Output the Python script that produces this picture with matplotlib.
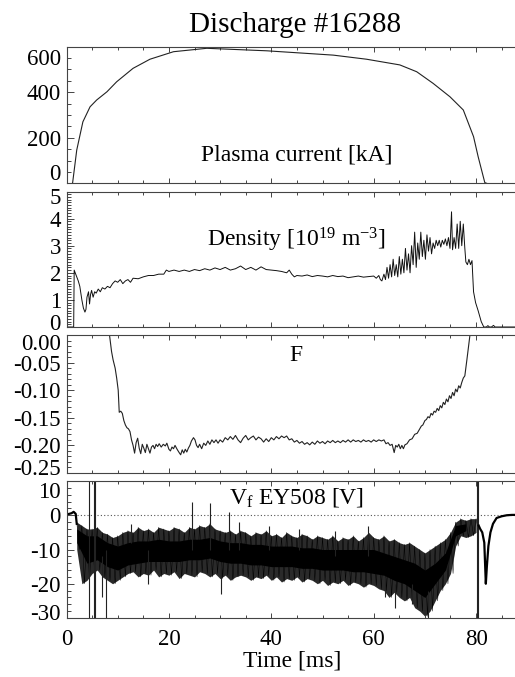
import matplotlib
matplotlib.use('Agg')
import matplotlib.pyplot as plt
from matplotlib.ticker import MultipleLocator
from matplotlib.transforms import ScaledTranslation

plt.rcParams['font.family'] = ['Liberation Serif', 'DejaVu Serif']
plt.rcParams['mathtext.fontset'] = 'custom'
plt.rcParams['mathtext.rm'] = 'Liberation Serif'
plt.rcParams['mathtext.it'] = 'Liberation Serif:italic'
plt.rcParams['axes.unicode_minus'] = False

# --- plasma current [kA] ---
ip_t = [0.0, 1.2, 2.0, 3.2, 4.6, 5.9, 7.9, 9.8, 13.0, 16.3, 20.9, 27.4, 39.1,
        52.1, 58.6, 65.1, 68.4, 71.6, 74.9, 77.5, 79.5, 80.4, 81.7, 88.0]
ip_v = [-50, 3, 146, 270, 336, 366, 402, 446, 505, 545, 578, 593, 582,
        563, 545, 520, 490, 439, 380, 322, 205, 117, 3, -50]

# --- density [1e19 m^-3] ---
ne_t = [0.0, 1.4, 1.5, 1.7, 2.0, 2.3, 2.6, 3.0, 3.3, 3.6, 3.8, 4.0, 4.3, 4.5, 4.7,
        4.9, 5.2, 5.5, 5.8, 6.2, 6.6, 7.0, 7.5, 8.0, 8.5, 9.0, 9.5, 10.0, 10.5,
        11.0, 11.5, 12.0, 12.5, 13.0, 14, 15, 16, 17, 18, 19, 19.5, 20, 21, 22,
        23, 24, 25, 26, 27, 28, 29, 30, 31, 32, 33, 34, 35, 36, 37, 38, 39, 40,
        41, 42, 43, 43.5, 44, 44.5, 45, 46, 47, 48, 49, 50, 51, 52, 53, 54, 55,
        56, 57, 58, 59, 60, 60.5, 61, 61.3, 61.6,
        62.0, 62.3, 62.6, 62.9, 63.2, 63.5, 63.8, 64.1, 64.4, 64.7, 65.0, 65.3,
        65.6, 65.9, 66.2, 66.5, 66.8, 67.1, 67.4, 67.7, 68.0, 68.3, 68.6, 68.9,
        69.2, 69.5, 69.8, 70.1, 70.4, 70.7, 71.0, 71.3, 71.6, 71.9, 72.2, 72.5,
        72.8, 73.1, 73.4, 73.7, 74.0, 74.3, 74.6, 74.9, 75.2, 75.4, 75.7, 76.0,
        76.3, 76.6, 76.9, 77.2, 77.5, 77.8, 78.0, 78.3, 78.6, 78.9, 79.2, 79.5,
        79.9, 80.4, 81.0, 81.5, 82.0, 82.3, 82.6, 83.0, 83.4, 83.7, 84.0, 88.0]
ne_v = [0.0, 0.0, 2.1, 2.0, 1.85, 1.7, 1.5, 1.0, 0.7, 0.55, 0.65, 1.1, 1.3, 0.85, 1.2,
        1.35, 1.1, 1.3, 1.25, 1.4, 1.3, 1.45, 1.4, 1.5, 1.45, 1.6, 1.7, 1.65, 1.75,
        1.6, 1.7, 1.75, 1.65, 1.8, 1.78, 1.85, 1.9, 1.9, 1.95, 1.95, 2.1, 2.05, 2.1, 2.05,
        2.1, 2.05, 2.12, 2.08, 2.15, 2.1, 2.18, 2.12, 2.2, 2.1, 2.15, 2.25, 2.12, 2.2, 2.1, 2.22, 2.12, 2.1,
        2.08, 2.05, 2.0, 2.1, 1.95, 1.85, 1.9, 1.88, 1.92, 1.86, 1.9, 1.88, 1.85, 1.9, 1.86, 1.88, 1.82,
        1.85, 1.88, 1.84, 1.86, 1.88, 1.8, 1.9, 1.75, 1.7,
        1.95, 1.75, 2.2, 1.8, 2.3, 1.85, 2.5, 1.9, 2.3, 1.85, 2.6, 1.95,
        2.5, 2.0, 2.9, 2.1, 2.7, 2.0, 3.0, 2.3, 3.5, 2.2, 3.1, 2.5,
        3.5, 2.6, 3.2, 2.5, 3.4, 2.8, 3.3, 2.7, 3.1, 2.9, 3.2, 3.0,
        3.2, 2.95, 3.2, 3.05, 3.25, 3.0, 3.3, 2.9, 4.25, 2.85, 3.3, 2.9,
        3.8, 2.9, 3.9, 3.0, 3.8, 2.9, 2.4, 2.3, 2.5, 2.3, 2.45, 1.3,
        0.9, 0.6, 0.2, 0.0, 0.0, 0.05, 0.0, 0.0, 0.06, 0.0, 0.0, 0.0]

# --- F ---
f_t = [8.0, 8.4, 8.8, 9.1, 9.5, 9.8, 10.1, 10.3, 10.6, 10.9, 11.2, 11.5, 11.8, 12.1,
       12.4, 12.7, 13.0, 13.3, 13.6, 13.9, 14.2, 14.5, 14.8, 15.1, 15.4, 15.7, 16.0,
       16.3, 16.6, 16.9, 17.2, 17.5, 17.8, 18.1, 18.5, 18.9, 19.3, 19.6, 20.0, 20.3,
       20.6, 20.9, 21.2, 21.6, 22.0, 22.3, 22.6, 22.9, 23.2, 23.5, 23.8, 24.1, 24.4,
       24.8, 25.1, 25.4, 25.7, 26.0, 26.4, 26.8, 27.2, 27.6, 28.0, 28.4, 28.8, 29.2,
       29.6, 30.0, 30.5, 31.0, 31.5, 32.0, 32.5, 33.0, 33.5, 34.0, 34.5, 35.0, 35.5,
       36.0, 36.5, 37.0, 37.5, 38.0, 38.5, 39.0, 39.5, 40.0, 40.5, 41.0, 41.5, 42.0,
       42.5, 43.0, 43.5, 44.0, 44.5, 45.0, 45.5, 46.0, 46.5, 47.0, 47.5, 48.0, 48.5,
       49.0, 49.5, 50.0, 50.5, 51.0, 51.5, 52.0, 52.5, 53.0, 53.5, 54.0, 54.5, 55.0,
       55.5, 56.0, 56.5, 57.0, 57.5, 58.0, 58.5, 59.0, 59.5, 60.0, 60.5, 61.0, 61.5,
       62.0, 62.4, 62.8, 63.2, 63.6, 64.0, 64.3, 64.6, 64.9, 65.2, 65.5, 65.8, 66.1,
       66.5, 67.0, 67.5, 68.0, 68.5, 69.0, 69.3, 69.6, 70.0, 70.3, 70.6, 70.9, 71.2,
       71.5, 71.8, 72.1, 72.4, 72.7, 73.0, 73.3, 73.6, 73.9, 74.2, 74.5, 74.8, 75.1,
       75.4, 75.7, 76.0, 76.3, 76.6, 76.9, 77.2, 77.5, 77.8, 78.0, 78.2, 78.4, 78.6,
       78.8, 79.0]
f_v = [0.02, 0.0, -0.03, -0.045, -0.06, -0.078, -0.10, -0.14, -0.138, -0.142, -0.155,
       -0.163, -0.168, -0.170, -0.175, -0.19, -0.20, -0.214, -0.195, -0.187, -0.205,
       -0.215, -0.198, -0.205, -0.213, -0.198, -0.206, -0.214, -0.203, -0.2, -0.206,
       -0.198, -0.202, -0.197, -0.203, -0.198, -0.201, -0.196, -0.207, -0.21, -0.203,
       -0.206, -0.2, -0.207, -0.213, -0.217, -0.208, -0.214, -0.207, -0.212, -0.205,
       -0.2, -0.192, -0.186, -0.19, -0.2, -0.204, -0.198, -0.206, -0.196, -0.2, -0.192,
       -0.198, -0.19, -0.195, -0.19, -0.196, -0.19, -0.194, -0.186, -0.19, -0.184,
       -0.189, -0.182, -0.19, -0.195, -0.187, -0.182, -0.19, -0.186, -0.183, -0.19,
       -0.185, -0.188, -0.194, -0.188, -0.193, -0.186, -0.19, -0.184, -0.188, -0.183,
       -0.186, -0.183, -0.19, -0.188, -0.194, -0.191, -0.196, -0.193, -0.198, -0.195,
       -0.199, -0.194, -0.198, -0.192, -0.196, -0.193, -0.197, -0.192, -0.195, -0.191,
       -0.195, -0.192, -0.195, -0.191, -0.194, -0.19, -0.194, -0.19, -0.193, -0.191,
       -0.194, -0.19, -0.193, -0.191, -0.194, -0.19, -0.193, -0.19, -0.192, -0.19,
       -0.197, -0.195, -0.2, -0.198, -0.213, -0.2, -0.203, -0.198, -0.206, -0.2,
       -0.206, -0.199, -0.197, -0.19, -0.188, -0.18, -0.178, -0.17, -0.165, -0.163,
       -0.155, -0.153, -0.148, -0.15, -0.142, -0.145, -0.138, -0.14, -0.133, -0.137,
       -0.128, -0.132, -0.122, -0.126, -0.116, -0.121, -0.11, -0.115, -0.104, -0.11,
       -0.098, -0.103, -0.092, -0.096, -0.086, -0.078, -0.074, -0.06, -0.045, -0.03,
       -0.015, 0.0, 0.015]

# --- floating potential Vf EY508 [V] ---
# quiet parts before and after the discharge
vf_pre_t = [0.0, 0.5, 1.0, 1.4, 1.8, 2.0]
vf_pre_v = [0.2, 0.4, 0.6, 1.0, 0.4, -2.5]
vf_post_t = [80.5, 80.8, 81.2, 81.6, 81.9, 82.1, 82.4, 82.8, 83.3, 84.0, 85.0, 86.0, 87.0, 88.0]
vf_post_v = [-3, -4, -5, -8, -20, -15, -9, -5, -2.5, -0.8, -0.3, 0.0, 0.1, 0.1]
# fluctuation envelope (outer) every 1 ms
vf_env_t = list(range(2, 81))
vf_env_hi = [-2, -3, -4, -4, -3.5, -5, -5.5, -6.5, -6, -5, -4.5, -5, -3.5, -4.5, -4, -5,
             -3.5, -4, -4.5, -3.5, -4, -5, -3.5, -4, -3, -3.5, -2.5, -4, -4.5, -5, -4.5,
             -5.5, -4.5, -5, -6, -5, -5.5, -4.5, -6, -5.5, -6.5, -5, -6, -6.5, -5.5, -6,
             -7, -6, -6.5, -7, -6, -7.5, -6.5, -7, -6, -7.5, -6.5, -5, -6.5, -7, -6,
             -7.5, -7, -8, -8.5, -8, -9, -10, -11, -10, -9, -8, -7, -5, -2, -1, -1.5, -1, -1]
vf_env_lo = [-10, -20, -19, -17, -16, -18, -19, -20, -19, -18, -17, -16.5, -18, -17, -17.5,
             -16, -18, -17, -17.5, -16.5, -18.5, -17, -17.5, -18, -16.5, -17, -18, -17,
             -18.5, -17.5, -19, -18, -17.5, -18, -19, -18, -18.5, -17.5, -19, -18, -19.5,
             -18.5, -19, -18, -19.5, -18.5, -19, -20, -19, -20.5, -19.5, -20, -19, -20.5,
             -19.5, -20, -21, -20, -20.5, -21.5, -22, -24, -22.5, -24, -25, -24, -27, -28,
             -29.5, -28, -25, -22, -20, -17, -9, -6, -6.5, -6, -5]
# dense core of the fluctuations every 2 ms
vf_core_t = list(range(2, 80, 2))
vf_core_hi = [-4, -6, -6, -8, -9, -8, -7.5, -7.5, -7, -7.5, -7.5, -7, -7, -6.5, -7.5, -8,
              -8, -8.5, -8.5, -9, -9, -9, -9.5, -9.5, -10, -10, -10, -10, -10, -10, -11,
              -12, -13, -14, -16, -14, -11, -3, -2.5]
vf_core_lo = [-8, -14, -13, -15, -16, -14.5, -14, -13.5, -13.5, -13.5, -13.5, -13, -13,
              -12.5, -13.5, -14, -14, -14.5, -14.5, -15, -15, -15, -15.5, -15.5, -16, -16,
              -16, -16.5, -16.5, -17, -17.5, -19, -20, -22, -24, -20, -16, -6, -4.5]
# isolated spikes: time, lower end, upper end
spike_t = [4.4, 5.3, 5.5, 7.0, 7.7, 12.5, 16.0, 24.6, 28.0, 30.2, 31.8, 33.7, 39.6,
           45.4, 52.4, 58.8, 62.3, 64.1, 67.4, 70.6, 80.2, 80.35]
spike_lo = [-30, -30, -30, -24, -30, -8, -20, -10, -10, -23, -10, -10, -10,
            -10, -12, -12, -24, -27, -26, -31, -30, -30]
spike_hi = [10, 10, 10, -12, -10, -2.5, -10, 4, 3.5, -15, 1, -2, -3,
            -4, -4.5, -3, -18, -20, -20, -22, 10, 10]

FIG_W, FIG_H = 515, 677
fig = plt.figure(figsize=(FIG_W / 100, FIG_H / 100), dpi=100)
left = 66.5 / FIG_W
width = 88 * 5.12 / FIG_W


def add_panel(top_px, bottom_px):
    return fig.add_axes([left, 1 - bottom_px / FIG_H, width, (bottom_px - top_px) / FIG_H])


def style(ax, yticks, ylabels, yminor, ylim, end_shift, xlabels=False):
    ax.set_xlim(0, 88)
    ax.set_ylim(*ylim)
    ax.set_yticks(yticks)
    ax.set_yticklabels(ylabels)
    ax.yaxis.set_minor_locator(MultipleLocator(yminor))
    ax.xaxis.set_major_locator(MultipleLocator(20))
    ax.xaxis.set_minor_locator(MultipleLocator(5))
    ax.tick_params(axis='both', which='both', direction='in', top=True, right=False,
                   labelsize=16.5, width=0.7, color='#444444')
    ax.tick_params(axis='y', which='major', length=5, pad=4)
    ax.tick_params(axis='y', which='minor', length=2.8)
    ax.tick_params(axis='x', which='major', length=3.5, pad=8)
    ax.tick_params(axis='x', which='minor', length=2.2)
    if not xlabels:
        ax.set_xticklabels([])
    for sp in ax.spines.values():
        sp.set_linewidth(0.8)
        sp.set_color('#444444')
    # IDL-style: end labels pulled inside the panel
    labs = ax.get_yticklabels()
    lo_px, hi_px = end_shift
    labs[0].set_transform(labs[0].get_transform()
                          + ScaledTranslation(0, lo_px / 100, fig.dpi_scale_trans))
    labs[-1].set_transform(labs[-1].get_transform()
                           + ScaledTranslation(0, -hi_px / 100, fig.dpi_scale_trans))


ax1 = add_panel(46.7, 183.3)
ax1.plot(ip_t, ip_v, color='#222222', lw=0.8)
style(ax1, [0, 200, 400, 600], ['0', '200', '400', '600'], 50, (0, 600), (11, 10))
ax1.text(0.51, 0.207, 'Plasma current [kA]', transform=ax1.transAxes,
         ha='center', va='center', fontsize=17)

ax2 = add_panel(191.5, 327)
ax2.plot(ne_t, ne_v, color='#111111', lw=0.7)
style(ax2, [0, 1, 2, 3, 4, 5], ['0', '1', '2', '3', '4', '5'], 0.1, (0, 5), (5, 4))
ax2.text(0.51, 0.64, r'Density [10$^{19}$ m$^{-3}$]', transform=ax2.transAxes,
         ha='center', va='center', fontsize=17)

ax3 = add_panel(335, 473)
ax3.plot(f_t, f_v, color='#222222', lw=0.8)
style(ax3, [-0.25, -0.20, -0.15, -0.10, -0.05, 0.0],
      ['-0.25', '-0.20', '-0.15', '-0.10', '-0.05', '0.00'], 0.01, (-0.25, 0.0), (6, 7))
ax3.text(0.51, 0.855, 'F', transform=ax3.transAxes,
         ha='center', va='center', fontsize=17)

ax4 = add_panel(481, 618)
ax4.axhline(0, color='#555555', lw=0.8, ls=(0, (1, 2)))
ax4.fill_between(vf_env_t, vf_env_lo, vf_env_hi, color='#2a2a2a', lw=0)
ax4.fill_between(vf_core_t, vf_core_lo, vf_core_hi, color='black', lw=0)
# thin zig-zag between the envelope edges adds the noisy texture
zig_t, zig_v = [], []
for t, lo, hi in zip(vf_env_t, vf_env_lo, vf_env_hi):
    zig_t += [t, t + 0.5]
    zig_v += [hi, lo]
ax4.plot(zig_t, zig_v, color='black', lw=0.35)
ax4.vlines(spike_t, spike_lo, spike_hi, color='#222222', lw=0.8)
ax4.plot(vf_pre_t, vf_pre_v, color='black', lw=1.6)
ax4.plot(vf_post_t, vf_post_v, color='black', lw=1.6)
style(ax4, [-30, -20, -10, 0, 10], ['-30', '-20', '-10', '0', '10'], 2, (-30, 10), (6, 9),
      xlabels=True)
ax4.text(0.51, 0.876, r'V$_{\rm f}$ EY508 [V]', transform=ax4.transAxes,
         ha='center', va='center', fontsize=17)
ax4.set_xlabel('Time [ms]', fontsize=17, labelpad=0)

fig.text(0.573, 1 - 25 / FIG_H, 'Discharge #16288', ha='center', va='center', fontsize=21)

fig.savefig('out.png', dpi=100)
